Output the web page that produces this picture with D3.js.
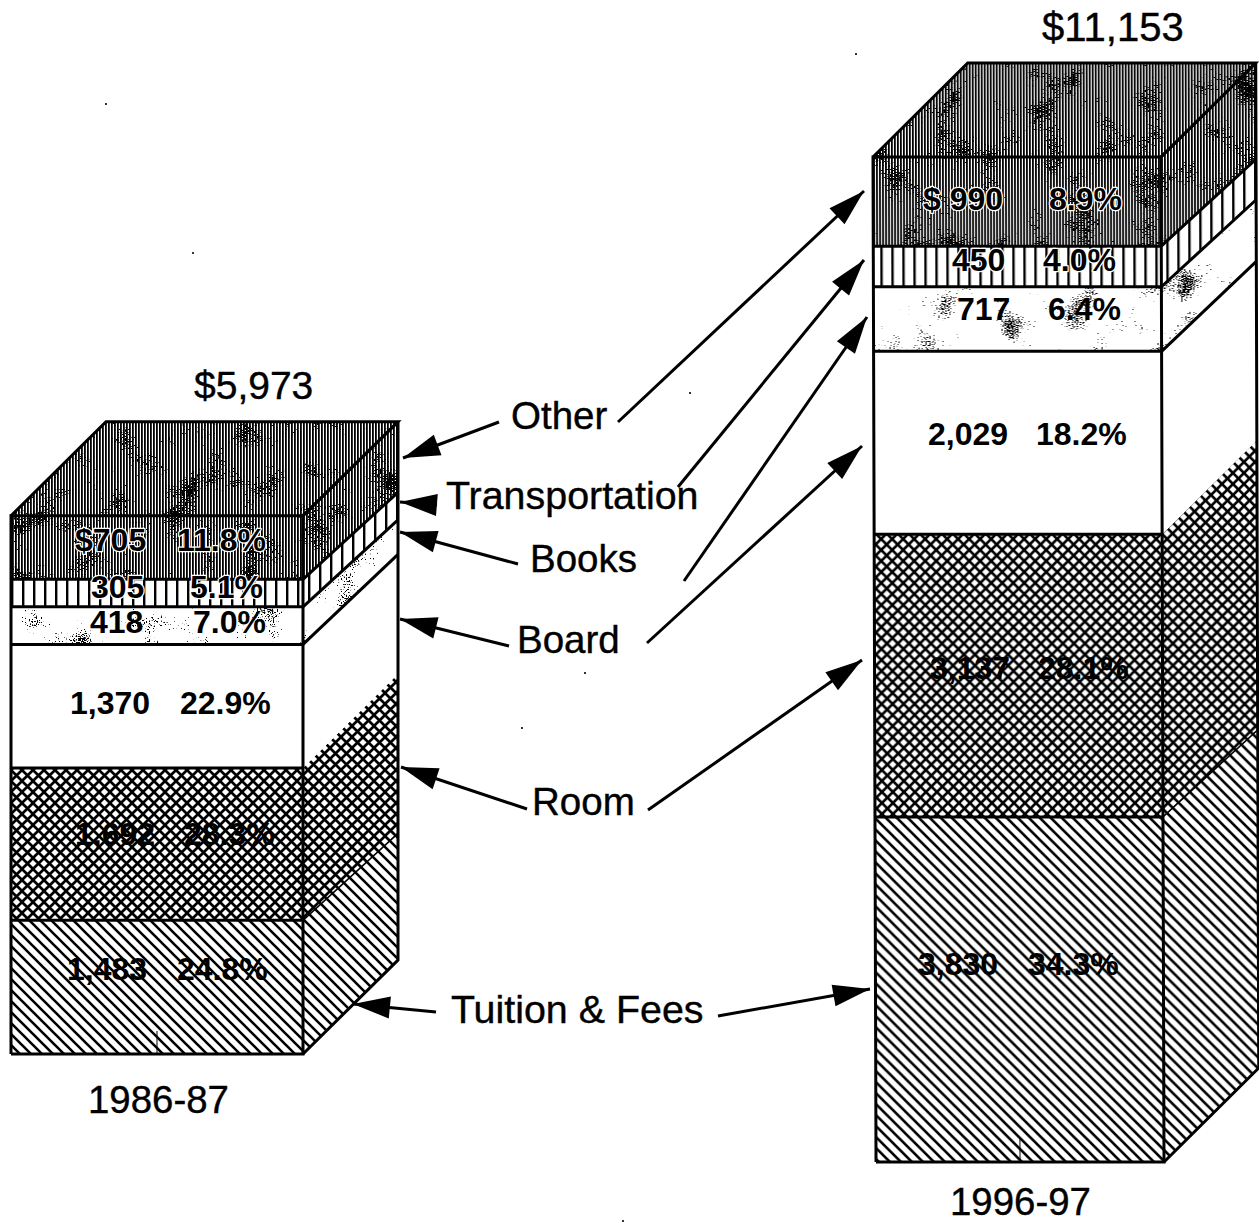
<!DOCTYPE html>
<html>
    <head>
        <meta charset="utf-8">
        <script src="https://d3js.org/d3.v7.min.js"></script>
        <style>
            html, body { margin: 0; padding: 0; background: #fff; }
            svg { display: block; }
            text { font-family: "Liberation Sans", Arial, sans-serif; fill: #000; }
        </style>
    </head>

    <body>
        <div id="target"></div>

        <script>
            // bottom of the stack first
            var categories = ['Tuition & Fees', 'Room', 'Board', 'Books', 'Transportation', 'Other'];
            var years = ['1986-87', '1996-97'];
            var values8687 = [1483, 1692, 1370, 418, 305, 705];
            var values9697 = [3830, 3137, 2029, 717, 450, 990];
            var share8687 = [24.8, 28.3, 22.9, 7.0, 5.1, 11.8];
            var share9697 = [34.3, 28.1, 18.2, 6.4, 4.0, 8.9];
            var dollarSign = ['$', '$ '];

            var width = 1259, height = 1223;
            var depth = 95;
            // how far each boundary climbs across the side face, bottom to top
            var sideRise = [94, 87, 94, 90, 87, 87, 94];
            var barWidth = [292, 288];
            var baseline = [1054, 1162];
            var skew = [0, 0.003];

            // label placement, same order as categories
            var amountX = [[67, 75, 70, 90, 91, 75], [918, 930, 928, 957, 952, 923]];
            var shareX = [[177, 184, 180, 193, 190, 177], [1028, 1038, 1036, 1048, 1043, 1049]];
            var labelShift = [[-7, 1, 8, 7, 5, 3], [-14, 3, 2, 1, 5, 8]];

            var patterns = ['url(#tuition)', 'url(#room)', '#fff', '#fff', 'url(#transport)', 'url(#other)'];
            var filters = [null, null, null, 'url(#speckLight)', null, 'url(#speckDark)'];
            // the boundary on top of each category, on the side face
            var sideLine = [1.5, 0, 3, 3, 3, 3];

            // tail and tip of each callout arrow
            var arrows = [
                [499, 422, 403, 458], [437, 505, 400, 502], [518, 564, 400, 532],
                [509, 646, 400, 619], [527, 809, 401, 767], [436, 1012, 353, 1004],
                [618, 422, 864, 191], [678, 487, 864, 260], [684, 581, 867, 317],
                [647, 643, 862, 446], [648, 810, 862, 660], [718, 1016, 870, 989]
            ];
            var calloutText = [
                ['Other', 511, 429, 38.5], ['Transportation', 446, 509, 39.4], ['Books', 530, 572, 38.5],
                ['Board', 517, 653, 38.5], ['Room', 532, 815, 38.5], ['Tuition & Fees', 451, 1023, 39.4]
            ];
            var strayDots = [[192, 252], [105, 103], [855, 53], [521, 727], [622, 1220], [584, 672], [689, 392]];

            var svg = d3.select('#target')
                        .append('svg')
                        .attr('width', width)
                        .attr('height', height);

            var defs = svg.append('defs');

            function tile(id, w) {
                return defs.append('pattern')
                    .attr('id', id)
                    .attr('patternUnits', 'userSpaceOnUse')
                    .attr('width', w)
                    .attr('height', w);
            }

            var p = tile('tuition', 11);
            p.append('rect').attr('width', 11).attr('height', 11).attr('fill', '#fff');
            p.append('path').attr('d', 'M-2,-2L13,13M-2,9L2,13M9,-2L13,2')
                .attr('stroke', '#000').attr('stroke-width', 2.6).attr('fill', 'none');

            p = tile('room', 11);
            p.append('rect').attr('width', 11).attr('height', 11).attr('fill', '#fff');
            p.append('path').attr('d', 'M0,0L11,11M11,0L0,11')
                .attr('stroke', '#000').attr('stroke-width', 2.7).attr('fill', 'none');

            p = tile('transport', 11);
            p.append('rect').attr('width', 11).attr('height', 11).attr('fill', '#fff');
            p.append('rect').attr('width', 2.4).attr('height', 11).attr('fill', '#000');

            p = tile('other', 3);
            p.append('rect').attr('width', 3).attr('height', 3).attr('fill', '#fff');
            p.append('rect').attr('width', 1.8).attr('height', 3).attr('fill', '#000');

            // print grain: fine noise gated by a slow noise so that it gathers in clumps
            function speck(id, threshold, seed) {
                var f = defs.append('filter')
                    .attr('id', id)
                    .attr('x', 0).attr('y', 0).attr('width', 1).attr('height', 1)
                    .attr('color-interpolation-filters', 'sRGB');
                var opaque = '1 0 0 0 0 1 0 0 0 0 1 0 0 0 0 0 0 0 0 1';
                f.append('feTurbulence').attr('type', 'fractalNoise').attr('baseFrequency', 0.75)
                    .attr('numOctaves', 1).attr('seed', seed).attr('result', 'a');
                f.append('feColorMatrix').attr('in', 'a').attr('values', opaque).attr('result', 'fine');
                f.append('feTurbulence').attr('type', 'fractalNoise').attr('baseFrequency', 0.03)
                    .attr('numOctaves', 2).attr('seed', seed + 5).attr('result', 'b');
                f.append('feColorMatrix').attr('in', 'b').attr('values', opaque).attr('result', 'coarse');
                f.append('feComposite').attr('in', 'fine').attr('in2', 'coarse')
                    .attr('operator', 'arithmetic')
                    .attr('k1', 0).attr('k2', 0.5).attr('k3', 0.5).attr('k4', 0).attr('result', 'mix');
                f.append('feColorMatrix').attr('in', 'mix')
                    .attr('values', '0 0 0 0 0 0 0 0 0 0 0 0 0 0 0 30 0 0 0 ' + (-30 * threshold))
                    .attr('result', 'grain');
                f.append('feComposite').attr('in', 'grain').attr('in2', 'SourceAlpha')
                    .attr('operator', 'in').attr('result', 'clipped');
                var m = f.append('feMerge');
                m.append('feMergeNode').attr('in', 'SourceGraphic');
                m.append('feMergeNode').attr('in', 'clipped');
            }
            speck('speckLight', 0.615, 4);
            speck('speckDark', 0.6, 11);

            var x = d3.scalePoint().domain(years).range([11, 873]);
            var h = d3.scaleLinear().domain([0, d3.sum(values9697)]).range([0, 1005]);

            var stacks = [values8687, values9697];
            var shares = [share8687, share9697];

            stacks.forEach(function(values, b) {
                var x0 = x(years[b]);
                var x1 = x0 + barWidth[b];
                var y0 = baseline[b];
                var tops = [y0].concat(Array.from(d3.cumsum(values), function(v) { return y0 - h(v); }));
                var topY = tops[tops.length - 1];
                var line = d3.line();

                var shift = -157 * skew[b];
                var group = svg.append('g')
                    .attr('transform', 'matrix(1,0,' + skew[b] + ',1,' + shift + ',0)');

                // top face
                group.append('path')
                    .attr('d', line([[x0, topY], [x0 + depth, topY - sideRise[6]], [x1 + depth, topY - sideRise[6]], [x1, topY]]) + 'Z')
                    .attr('fill', patterns[5])
                    .attr('filter', filters[5]);

                // side face, bottom up
                group.selectAll('.side')
                    .data(values)
                    .enter()
                    .append('path')
                    .attr('class', 'side')
                    .attr('d', function(d, i) {
                        return line([
                            [x1, tops[i]],
                            [x1 + depth, tops[i] - sideRise[i]],
                            [x1 + depth, tops[i + 1] - sideRise[i + 1]],
                            [x1, tops[i + 1]]
                        ]) + 'Z';
                    })
                    .attr('fill', function(d, i) { return patterns[i]; })
                    .attr('filter', function(d, i) { return filters[i]; });

                // front face, bottom up
                group.selectAll('.front')
                    .data(values)
                    .enter()
                    .append('rect')
                    .attr('class', 'front')
                    .attr('x', x0)
                    .attr('y', function(d, i) { return tops[i + 1]; })
                    .attr('width', barWidth[b])
                    .attr('height', function(d) { return h(d); })
                    .attr('fill', function(d, i) { return patterns[i]; })
                    .attr('filter', function(d, i) { return filters[i]; });

                // side boundaries
                group.selectAll('.sideLine')
                    .data(values)
                    .enter()
                    .filter(function(d, i) { return sideLine[i] > 0; })
                    .append('line')
                    .attr('class', 'sideLine')
                    .attr('x1', x1)
                    .attr('y1', function(d) { return tops[values.indexOf(d) + 1]; })
                    .attr('x2', x1 + depth)
                    .attr('y2', function(d) { var i = values.indexOf(d) + 1; return tops[i] - sideRise[i]; })
                    .attr('stroke', '#000')
                    .attr('stroke-width', function(d) { return sideLine[values.indexOf(d)]; });

                // front boundaries
                group.selectAll('.frontLine')
                    .data(tops.slice(1, -1))
                    .enter()
                    .append('line')
                    .attr('class', 'frontLine')
                    .attr('x1', x0).attr('x2', x1)
                    .attr('y1', function(d) { return d; })
                    .attr('y2', function(d) { return d; })
                    .attr('stroke', '#000')
                    .attr('stroke-width', 3);

                // outline
                var outline = [
                    [[x0, y0], [x1, y0], [x1, topY], [x0, topY], [x0, y0]],
                    [[x0, topY], [x0 + depth, topY - sideRise[6]], [x1 + depth, topY - sideRise[6]], [x1, topY]],
                    [[x1 + depth, topY - sideRise[6]], [x1 + depth, y0 - sideRise[0]], [x1, y0]]
                ];
                outline.forEach(function(pts) {
                    group.append('path')
                        .attr('d', line(pts))
                        .attr('fill', 'none')
                        .attr('stroke', '#000')
                        .attr('stroke-width', 3)
                        .attr('stroke-linejoin', 'miter');
                });

                // stub in the bottom edge
                group.append('line')
                    .attr('x1', (x0 + x1) / 2).attr('x2', (x0 + x1) / 2)
                    .attr('y1', y0 - 23).attr('y2', y0)
                    .attr('stroke', '#000').attr('stroke-width', 1);

                // amount and share labels
                var labels = svg.append('g')
                    .attr('font-size', 32)
                    .attr('font-weight', 'bold');

                function labelY(i) {
                    return (tops[i] + tops[i + 1]) / 2 + labelShift[b][i];
                }
                function halo(sel) {
                    sel.attr('stroke', function(d, i) { return i >= 4 ? '#fff' : 'none'; })
                        .attr('stroke-width', 2.5)
                        .style('paint-order', 'stroke')
                        .attr('stroke-linejoin', 'round');
                }

                labels.selectAll('.amount')
                    .data(values)
                    .enter()
                    .append('text')
                    .attr('class', 'amount')
                    .attr('x', function(d, i) { return amountX[b][i]; })
                    .attr('y', function(d, i) { return labelY(i); })
                    .text(function(d, i) { return (i == 5 ? dollarSign[b] : '') + d3.format(',')(d); })
                    .call(halo);

                labels.selectAll('.share')
                    .data(shares[b])
                    .enter()
                    .append('text')
                    .attr('class', 'share')
                    .attr('x', function(d, i) { return shareX[b][i]; })
                    .attr('y', function(d, i) { return labelY(i); })
                    .text(function(d) { return d3.format('.1f')(d) + '%'; })
                    .call(halo);
            });

            // totals and year labels
            var totalPos = [[194, 399], [1042, 41]];
            var totalSize = [39, 40];
            var yearPos = [[88, 1113], [950, 1215]];
            stacks.forEach(function(values, b) {
                svg.append('text')
                    .attr('x', totalPos[b][0]).attr('y', totalPos[b][1])
                    .attr('font-size', totalSize[b])
                    .attr('stroke', '#000').attr('stroke-width', 0.4)
                    .text('$' + d3.format(',')(d3.sum(values)));
                svg.append('text')
                    .attr('x', yearPos[b][0]).attr('y', yearPos[b][1])
                    .attr('font-size', 38.4)
                    .attr('stroke', '#000').attr('stroke-width', 0.4)
                    .text(years[b]);
            });

            // callouts
            svg.selectAll('.callout')
                .data(calloutText)
                .enter()
                .append('text')
                .attr('class', 'callout')
                .attr('x', function(d) { return d[1]; })
                .attr('y', function(d) { return d[2]; })
                .attr('font-size', function(d) { return d[3]; })
                .attr('stroke', '#000')
                .attr('stroke-width', 0.4)
                .text(function(d) { return d[0]; });

            var headLength = 37, headHalf = 11;
            svg.selectAll('.shaft')
                .data(arrows)
                .enter()
                .append('line')
                .attr('class', 'shaft')
                .attr('x1', function(d) { return d[0]; })
                .attr('y1', function(d) { return d[1]; })
                .attr('x2', function(d) { return d[2]; })
                .attr('y2', function(d) { return d[3]; })
                .attr('stroke', '#000')
                .attr('stroke-width', 3);

            svg.selectAll('.head')
                .data(arrows)
                .enter()
                .append('polygon')
                .attr('class', 'head')
                .attr('points', function(d) {
                    var dx = d[2] - d[0], dy = d[3] - d[1];
                    var len = Math.sqrt(dx * dx + dy * dy);
                    var ux = dx / len, uy = dy / len;
                    var bx = d[2] - ux * headLength, by = d[3] - uy * headLength;
                    return [[d[2], d[3]],
                            [bx - uy * headHalf, by + ux * headHalf],
                            [bx + uy * headHalf, by - ux * headHalf]].join(' ');
                })
                .attr('fill', '#000');

            svg.selectAll('.stray')
                .data(strayDots)
                .enter()
                .append('rect')
                .attr('class', 'stray')
                .attr('x', function(d) { return d[0]; })
                .attr('y', function(d) { return d[1]; })
                .attr('width', 2)
                .attr('height', 2)
                .attr('fill', '#333');
        </script>
    </body>
</html>
